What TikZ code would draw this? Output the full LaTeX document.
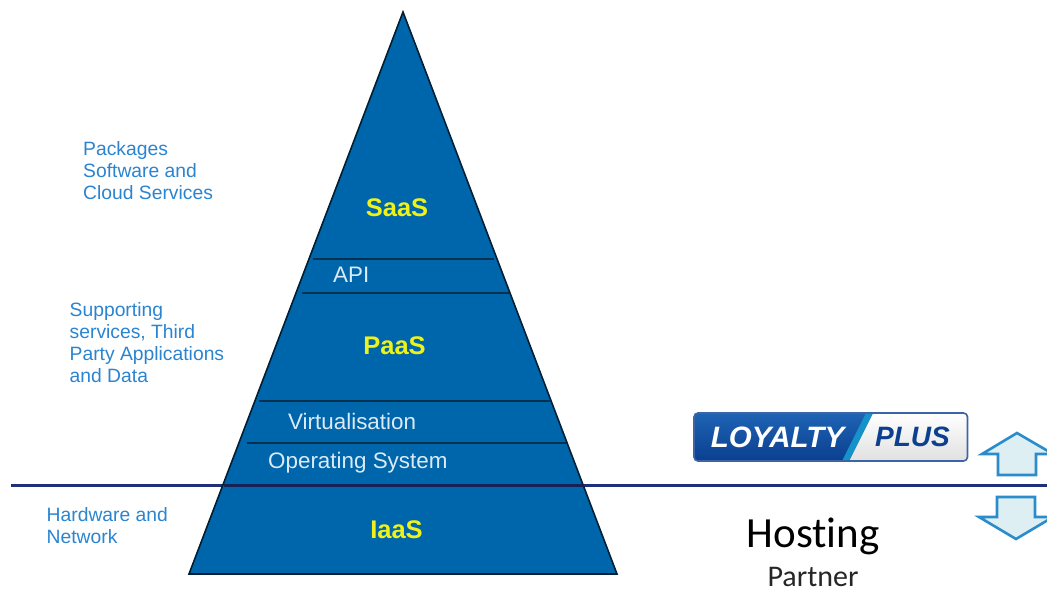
\documentclass[tikz,border=0pt]{standalone}
\usepackage{fontspec}
\setmainfont{Liberation Sans}
\newfontfamily\carlito[Ligatures=CommonOff]{Carlito}
\usetikzlibrary{shadings}
\definecolor{pyr}{HTML}{0066AB}
\definecolor{sep}{HTML}{06304F}
\definecolor{hline}{HTML}{1F2F7A}
\definecolor{lbl}{HTML}{2A84D0}
\definecolor{yel}{HTML}{EFF21A}
\definecolor{inner}{HTML}{DCEAF5}
\definecolor{arrf}{HTML}{DDEFF3}
\definecolor{arrd}{HTML}{2B8CCB}
\definecolor{logoA}{HTML}{0B3F8F}
\definecolor{logoB}{HTML}{1E63B4}
\tikzset{
  sidelabel/.style={font=\fontsize{19.3}{22}\selectfont, text=lbl, align=left, anchor=west, inner sep=0pt},
  tier/.style={font=\fontsize{25.5}{28}\selectfont\bfseries, text=yel, inner sep=0pt},
  layer/.style={font=\fontsize{22.4}{25}\selectfont, text=inner, anchor=west, inner sep=0pt},
  septr/.style={draw=sep, line width=2.6pt},
  bigarrow/.style={draw=arrd, fill=arrf, line width=2.6pt, line join=miter},
}
\begin{document}
\begin{tikzpicture}[x=1pt,y=-1pt]
\useasboundingbox (0,0) rectangle (1047,590);
\clip (0,0) rectangle (1047,590);
% horizontal divider
\coordinate (hl) at (11,485.5);
\coordinate (hr) at (1047,485.5);
\draw[hline, line width=3pt] (hl) -- (hr);
% pyramid
\coordinate (apex) at (403,12);
\coordinate (bl) at (189,574);
\coordinate (br) at (617,574);
\draw[fill=pyr, draw=black!70!pyr, line width=1.6pt, line join=miter] (apex) -- (br) -- (bl) -- cycle;
\coordinate (s1l) at (313,259); \coordinate (s1r) at (494,259);
\coordinate (s2l) at (302,293);   \coordinate (s2r) at (510,293);
\coordinate (s3l) at (259,401); \coordinate (s3r) at (551,401);
\coordinate (s4l) at (247,443);   \coordinate (s4r) at (566,443);
\coordinate (s5l) at (224,485.5); \coordinate (s5r) at (584,485.5);
\draw[septr] (s1l) -- (s1r);
\draw[septr] (s2l) -- (s2r);
\draw[septr] (s3l) -- (s3r);
\draw[septr] (s4l) -- (s4r);
\draw[draw=hline!70!black, line width=3pt] (s5l) -- (s5r);
% tiers
\node[tier] (saas) at (397,208) {SaaS};
\node[tier] (paas) at (394.5,346) {PaaS};
\node[tier] (iaas) at (396.5,530) {IaaS};
\node[layer] (api) at (333,275) {API};
\node[layer] (virt) at (288,421.5) {Virtualisation};
\node[layer] (os) at (268,463) {Operating System};
% side labels
\node[sidelabel] (l1) at (83,170.5) {Packages\\Software and\\Cloud Services};
\node[sidelabel] (l2) at (69.5,342.5) {Supporting\\services, Third\\Party Applications\\and Data};
\node[sidelabel] (l3) at (46.5,526) {Hardware and\\Network};
% logo
\begin{scope}
  \path[rounded corners=4pt, clip] (694,413) rectangle (967.5,461);
  \shade[top color=logoB, bottom color=logoA] (694,413) rectangle (968,461);
  \shade[top color=white, bottom color=black!12] (873,413) -- (968,413) -- (968,461) -- (849,461) -- cycle;
  \fill[logoB!70!cyan] (866,413) -- (873,413) -- (849,461) -- (842,461) -- cycle;
\end{scope}
\draw[logoA!80!white, line width=1.6pt, rounded corners=4pt] (694,413) rectangle (967.5,461);
\node[inner sep=0pt, text=white, font=\fontsize{29.5}{32}\selectfont\bfseries\itshape] (loyalty) at (777.5,437) {LOYALTY};
\node[inner sep=0pt, text=logoA, font=\fontsize{28}{32}\selectfont\bfseries\itshape] (plus) at (912.5,437) {PLUS};
% arrows
\draw[bigarrow] (1017,433) -- (1053,454) -- (1036,454) -- (1036,475) -- (998,475) -- (998,454) -- (982,454) -- cycle;
\draw[bigarrow] (997,497) -- (1035,497) -- (1035,517) -- (1053,517) -- (1016,539) -- (979,517) -- (997,517) -- cycle;
% hosting
\node[inner sep=0pt, anchor=base, font=\carlito\fontsize{43}{46}\selectfont, text=black] (host) at (813,547) {Hosting};
\node[inner sep=0pt, anchor=base, font=\carlito\fontsize{30}{32}\selectfont, text=black!85] (part) at (813,586) {Partner};
\end{tikzpicture}
\end{document}
